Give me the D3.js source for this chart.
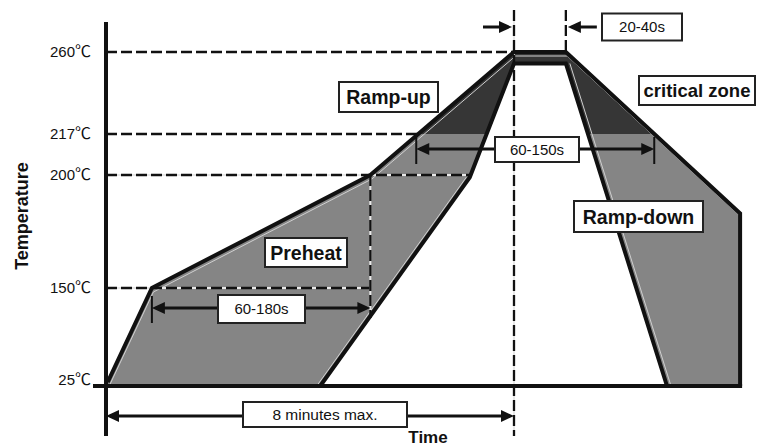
<!DOCTYPE html>
<html>
<head>
<meta charset="utf-8">
<script src="https://cdn.jsdelivr.net/npm/d3@7"></script>
<style>
  html, body { margin: 0; padding: 0; background: #fff; }
  svg { display: block; }
  text { font-family: "Liberation Sans", Arial, "Noto Sans CJK SC", sans-serif; }
</style>
</head>
<body>
<svg id="chart" width="765" height="448"></svg>
<script>
// ---------- data ----------
const tempTicks   = [260, 217, 200, 150, 25];
const tickLabels  = ["260℃", "217℃", "200℃", "150℃", "25℃"];
// upper (hot) limit of the reflow window: time (s), temperature (℃)
const outerTime   = [2, 54, 311, 480, 541, 746, 746];
const outerTemp   = [30, 150, 200, 260, 260, 183, 25];
// lower (cool) limit of the reflow window
const innerTime   = [252, 428, 480, 541, 660];
const innerTemp   = [25, 199, 254, 254, 25];
const criticalTemp = 217;
const peakTemp     = 260;
const totalTime    = 480;          // 8 minutes
const peakStart    = 480, peakEnd = 541;
const preheatSpan  = [54, 311];    // 60-180s
const soakSpan     = [365, 645];   // 60-150s
const spanLabels   = ["60-180s", "60-150s", "20-40s", "8 minutes max."];
const zoneLabels   = ["Ramp-up", "Preheat", "Ramp-down", "critical zone"];

// ---------- scales ----------
const x = d3.scaleLinear().domain([0, 480]).range([106, 514]);
const y = d3.scaleLinear().domain([25, 150, 200, 217, 260]).range([386, 288, 175, 134, 52]);

const svg = d3.select("#chart");
const outer = outerTime.map((t, i) => [t, outerTemp[i]]);
const inner = innerTime.map((t, i) => [t, innerTemp[i]]);
const line = d3.line().x(d => x(d[0])).y(d => y(d[1]));

// region polygon
const region = outer.concat(inner.slice().reverse(), [[outerTime[0], 25]]);

svg.append("defs").append("clipPath").attr("id", "crit")
  .append("rect").attr("x", 0).attr("y", 0).attr("width", 765).attr("height", y(criticalTemp));

svg.append("path").attr("d", line(region) + "Z").attr("fill", "#858585");
svg.append("path").attr("d", line(region) + "Z").attr("fill", "#363636").attr("clip-path", "url(#crit)");

// light halo lines just inside the edges
svg.append("path").attr("d", line(outer.slice(0, 6))).attr("fill", "none")
  .attr("stroke", "#d0d0d0").attr("stroke-width", 1).attr("transform", "translate(1.5,4)");
svg.append("path").attr("d", line(inner.slice(3))).attr("fill", "none")
  .attr("stroke", "#d0d0d0").attr("stroke-width", 1).attr("transform", "translate(4,0)");
svg.append("path").attr("d", line(inner.slice(0, 2))).attr("fill", "none")
  .attr("stroke", "#d0d0d0").attr("stroke-width", 1).attr("transform", "translate(-3.5,0)");

// ---------- dashed guides ----------
const dash = "11,4";
function hline(t0, t1, temp, under) {
  if (under) svg.append("line").attr("x1", x(t0)).attr("x2", x(t1)).attr("y1", y(temp)).attr("y2", y(temp))
    .attr("stroke", "#e8e8e8").attr("stroke-width", 2);
  svg.append("line").attr("x1", x(t0)).attr("x2", x(t1)).attr("y1", y(temp)).attr("y2", y(temp))
    .attr("stroke", "#111").attr("stroke-width", 2.3).attr("stroke-dasharray", dash);
}
function vline(t, y1, y2, under) {
  if (under) svg.append("line").attr("x1", x(t)).attr("x2", x(t)).attr("y1", y1).attr("y2", y2)
    .attr("stroke", "#e8e8e8").attr("stroke-width", 2);
  svg.append("line").attr("x1", x(t)).attr("x2", x(t)).attr("y1", y1).attr("y2", y2)
    .attr("stroke", "#111").attr("stroke-width", 2.3).attr("stroke-dasharray", dash);
}
hline(0, peakStart, peakTemp, false);
hline(0, 366, criticalTemp, false);
hline(0, 428, 200, true);
hline(0, preheatSpan[1], 150, true);
vline(preheatSpan[1], y(200), y(25) - 68, true);
vline(peakStart, 10, y(25) + 50, true);
vline(peakEnd, 10, y(peakTemp), false);

// ---------- profile outlines ----------
svg.append("path").attr("d", line(outer)).attr("fill", "none")
  .attr("stroke", "#111").attr("stroke-width", 4).attr("stroke-linejoin", "miter");
svg.append("path").attr("d", line(inner)).attr("fill", "none")
  .attr("stroke", "#111").attr("stroke-width", 4).attr("stroke-linejoin", "miter");

// ---------- axes ----------
svg.append("line").attr("x1", x(0)).attr("x2", x(0)).attr("y1", y(peakTemp) - 30).attr("y2", y(25) + 50)
  .attr("stroke", "#111").attr("stroke-width", 4);
svg.append("line").attr("x1", x(0) - 13).attr("x2", x(746) + 2).attr("y1", y(25)).attr("y2", y(25))
  .attr("stroke", "#111").attr("stroke-width", 4);

const tk = svg.selectAll("text.tick").data(tempTicks).join("text")
  .attr("class", "tick")
  .attr("x", x(0) - 15)
  .attr("y", d => y(d) + (d === 25 ? -6 : 0))
  .attr("dy", "0.35em")
  .attr("text-anchor", "end")
  .attr("font-size", 15)
  .attr("fill", "#111");
tk.append("tspan").text((d, i) => tickLabels[i].replace("℃", ""));
tk.append("tspan").attr("font-family", "'Noto Sans CJK SC'").attr("font-size", 16).text("℃");

svg.append("text").attr("transform", "translate(28,216) rotate(-90)")
  .attr("text-anchor", "middle").attr("font-size", 18).attr("font-weight", "bold")
  .attr("fill", "#111").text("Temperature");
svg.append("text").attr("x", 428).attr("y", 443)
  .attr("text-anchor", "middle").attr("font-size", 17).attr("font-weight", "bold")
  .attr("fill", "#111").text("Time");

// ---------- arrows ----------
function arrowHead(px, py, dir) { // dir = +1 points right, -1 points left
  const L = 13, W = 6;
  svg.append("path")
    .attr("d", `M${px},${py} L${px - dir * L},${py - W} L${px - dir * L},${py + W} Z`)
    .attr("fill", "#111");
}
function span(t0, t1, py, tick0, tick1) {
  svg.append("line").attr("x1", x(t0) + 4).attr("x2", x(t1) - 4).attr("y1", py).attr("y2", py)
    .attr("stroke", "#111").attr("stroke-width", 3);
  arrowHead(x(t0), py, -1);
  arrowHead(x(t1), py, 1);
  if (tick0) svg.append("line").attr("x1", x(t0)).attr("x2", x(t0)).attr("y1", py - 12).attr("y2", py + 15)
    .attr("stroke", "#111").attr("stroke-width", 2);
  if (tick1) svg.append("line").attr("x1", x(t1)).attr("x2", x(t1)).attr("y1", py - 12).attr("y2", py + 15)
    .attr("stroke", "#111").attr("stroke-width", 2);
}
span(preheatSpan[0], preheatSpan[1], 308, true, false);
span(soakSpan[0], soakSpan[1], 149, true, true);
span(0, totalTime, y(25) + 30, false, false);

// converging peak arrows
const pyPeak = 27;
svg.append("line").attr("x1", x(peakStart) - 31).attr("x2", x(peakStart) - 6).attr("y1", pyPeak).attr("y2", pyPeak)
  .attr("stroke", "#111").attr("stroke-width", 3);
arrowHead(x(peakStart) - 2, pyPeak, 1);
svg.append("line").attr("x1", x(peakEnd) + 6).attr("x2", x(peakEnd) + 31).attr("y1", pyPeak).attr("y2", pyPeak)
  .attr("stroke", "#111").attr("stroke-width", 3);
arrowHead(x(peakEnd) + 2, pyPeak, -1);

// ---------- label boxes ----------
function box(label, cx, cy, w, h, size, bold) {
  const g = svg.append("g");
  g.append("rect").attr("x", cx - w / 2).attr("y", cy - h / 2).attr("width", w).attr("height", h)
    .attr("fill", "#fff").attr("stroke", "#222").attr("stroke-width", 2);
  g.append("text").attr("x", cx).attr("y", cy).attr("dy", "0.36em")
    .attr("text-anchor", "middle").attr("font-size", size)
    .attr("font-weight", bold ? "bold" : "normal").attr("fill", "#111").text(label);
}
box(spanLabels[2], 642, 27, 80, 27, 15, false);
box(zoneLabels[0], 388.5, 97, 99, 30, 19.5, true);
box(zoneLabels[3], 697, 90.5, 116, 29, 18.5, true);
box(spanLabels[1], 537, 149.5, 84, 25, 15, false);
box(zoneLabels[1], 306, 252.5, 82, 29, 19.5, true);
box(spanLabels[0], 261.5, 309, 87, 28, 15, false);
box(zoneLabels[2], 638.5, 216.5, 129, 31, 19.5, true);
box(spanLabels[3], 325, 414.5, 164, 25, 15.5, false);
</script>
</body>
</html>
